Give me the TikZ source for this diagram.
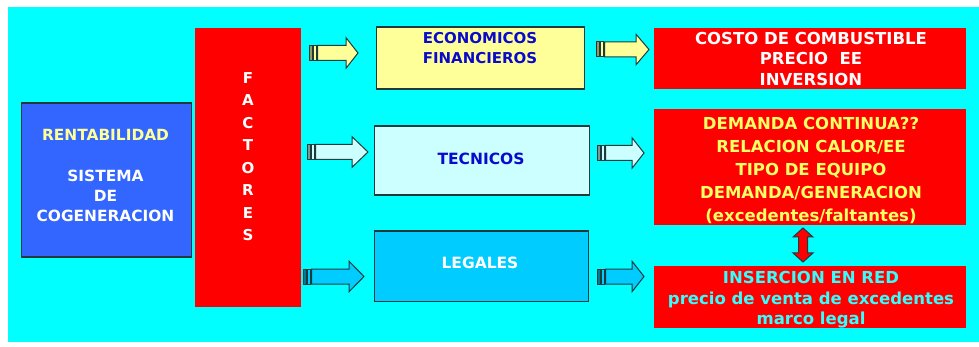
\documentclass[tikz,border=0pt]{standalone}
\usepackage{fontspec}
\setmainfont{DejaVu Sans}
\definecolor{bgcyan}{HTML}{00FFFF}
\definecolor{boxblue}{HTML}{3366FF}
\definecolor{lyellow}{HTML}{FFFF99}
\definecolor{tyellow}{HTML}{FFFF66}
\definecolor{lcyan}{HTML}{CCFFFF}
\definecolor{mcyan}{HTML}{00CCFF}
\definecolor{tblue}{HTML}{0A0ACC}
\definecolor{tcyan}{HTML}{33FFFF}
\definecolor{edge}{HTML}{1E3A3A}
\tikzset{
  box/.style={draw=edge, line width=1.3pt, inner sep=0pt, anchor=north west},
  redbox/.style={fill=red, draw=none, inner sep=0pt, anchor=north west},
  txt/.style={inner sep=0pt, align=center, font=\bfseries},
  blockarrow/.style={draw=edge, line width=1pt, line join=miter},
}
% striped arrow: #1 x0, #2 tip x, #3 yc, #4 head start x, #5 fill
\newcommand{\striparrow}[5]{%
  \filldraw[blockarrow, fill=#5!60!black] (#1,#3-7.5) rectangle (#1+3,#3+7.5);
  \filldraw[blockarrow, fill=#5] (#1+4,#3-7.5) rectangle (#1+7.5,#3+7.5);
  \filldraw[blockarrow, fill=#5] (#1+8.5,#3-7.5) -- (#4,#3-7.5) -- (#4,#3-15.3) -- (#2,#3)
    -- (#4,#3+15.3) -- (#4,#3+7.5) -- (#1+8.5,#3+7.5) -- cycle;
}
\begin{document}
\begin{tikzpicture}[x=1pt,y=-1pt]
\useasboundingbox (0,0) rectangle (979,347);
\fill[white] (0,0) rectangle (979,347);
\fill[bgcyan] (8,7) rectangle (979,342);

% left blue box
\node[box, fill=boxblue, minimum width=170pt, minimum height=154pt] (rent) at (20.5,102.5) {};
\node[txt, text=white, font=\bfseries\fontsize{15.4}{20}\selectfont] (rentt) at (105.5,175.5)
  {\textcolor{lyellow}{RENTABILIDAD}\\[21pt]SISTEMA\\DE\\COGENERACION};

% FACTORES
\node[redbox, minimum width=106pt, minimum height=279pt] (fac) at (195,28) {};
\foreach \l [count=\i] in {F,A,C,T,O,R,E,S}
  \node[txt, text=white, font=\bfseries\fontsize{15}{18}\selectfont] (f\i) at (248,78+22.5*\i-22.5) {\l};

% middle boxes
\node[box, fill=lyellow, minimum width=208.5pt, minimum height=62pt] (eco) at (375.5,26.5) {};
\node[txt, text=tblue, font=\bfseries\fontsize{15}{20}\selectfont] (ecot) at (480,48) {ECONOMICOS\\FINANCIEROS};
\node[box, fill=lcyan, minimum width=215pt, minimum height=69pt] (tec) at (374,125.5) {};
\node[txt, text=tblue, font=\bfseries\fontsize{15.5}{20}\selectfont] (tect) at (481,158.5) {TECNICOS};
\node[box, fill=mcyan, minimum width=214pt, minimum height=70pt] (leg) at (373.5,230.5) {};
\node[txt, text=white, font=\bfseries\fontsize{15.5}{20}\selectfont] (legt) at (480,263) {LEGALES};

% right red boxes
\node[redbox, minimum width=312pt, minimum height=61pt] (r1) at (654,28) {};
\node[txt, text=white, font=\bfseries\fontsize{16.5}{20.5}\selectfont] (r1t) at (811,58.5)
  {COSTO DE COMBUSTIBLE\\PRECIO\ \ EE\\INVERSION};
\node[redbox, minimum width=312pt, minimum height=116pt] (r2) at (654,109) {};
\node[txt, text=tyellow, font=\bfseries\fontsize{16.5}{22.8}\selectfont] (r2t) at (811,170.5)
  {DEMANDA CONTINUA??\\RELACION CALOR/EE\\TIPO DE EQUIPO\\DEMANDA/GENERACION\\(excedentes/faltantes)};
\node[redbox, minimum width=312pt, minimum height=62pt] (r3) at (654,265.5) {};
\node[txt, text=tcyan, font=\bfseries\fontsize{16.5}{20.5}\selectfont] (r3t) at (811,300)
  {INSERCION EN RED\\precio de venta de excedentes\\marco legal};

% striped arrows
\striparrow{309}{358}{53}{346}{lyellow}
\striparrow{596}{649}{49.5}{636}{lyellow}
\striparrow{307}{368}{152}{352}{lcyan}
\striparrow{597}{644}{153}{632}{lcyan}
\striparrow{303}{364}{276.5}{349}{mcyan}
\striparrow{597}{644}{276.5}{632}{mcyan}

% double arrow between r2 and r3
\filldraw[blockarrow, fill=red] (803,228) -- (813,237) -- (807.5,237) -- (807.5,253) -- (813,253)
  -- (803,262) -- (793,253) -- (798.5,253) -- (798.5,237) -- (793,237) -- cycle;
\end{tikzpicture}
\end{document}
